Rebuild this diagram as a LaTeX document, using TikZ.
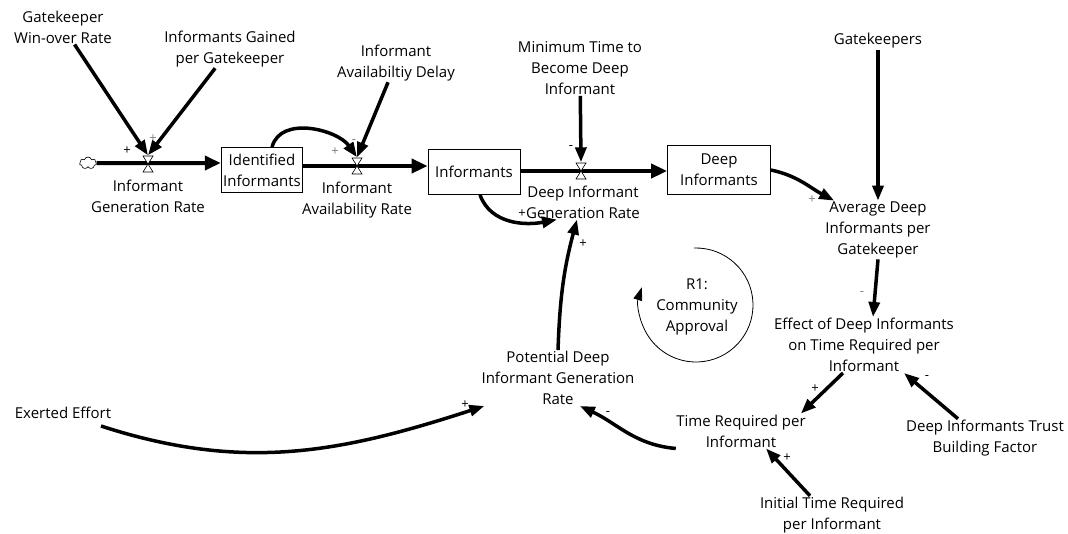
\documentclass[tikz,border=0pt]{standalone}
\usepackage{fontspec}
\setmainfont{Open Sans}
\usetikzlibrary{arrows.meta,shapes.symbols}

\pgfdeclarelayer{background}
\pgfsetlayers{background,main}

\tikzstyle{aux}=[inner sep = 1pt, align=center, font=\fontsize{15}{21}\selectfont]
\tikzstyle{stock}=[draw, line width=0.8pt, inner sep = 2pt, align=center, font=\fontsize{15}{21}\selectfont]
\tikzstyle{valve}=[minimum width = 11pt, minimum height = 17pt, inner sep = 0pt,
  path picture={\draw[fill=white, line width=0.6pt]
    ([shift={(0.5pt,-0.5pt)}]path picture bounding box.north west) -- ([shift={(-0.5pt,-0.5pt)}]path picture bounding box.north east)
    -- ([shift={(0.5pt,0.5pt)}]path picture bounding box.south west) -- ([shift={(-0.5pt,0.5pt)}]path picture bounding box.south east) -- cycle;}]
\tikzstyle{src}=[cloud, cloud puffs = 7, draw, line width=0.6pt, fill=white, minimum width = 17pt, minimum height = 12pt, inner sep = 0pt]
\tikzstyle{flow}=[line width=4pt, -{Triangle[length=16pt,width=14pt]}]
\tikzstyle{link}=[line width=3.5pt, -{Triangle[length=15pt,width=11pt]}]
\tikzstyle{sgn}=[inner sep = 0pt, font=\fontsize{13}{13}\selectfont]
\tikzstyle{sgnG}=[inner sep = 0pt, font=\fontsize{13}{13}\selectfont, text=gray]
\tikzstyle{loopS}=[line width=0.8pt, -{Triangle[length=13pt,width=9pt]}]

\begin{document}
\begin{tikzpicture}[x=1pt, y=1pt]
        \useasboundingbox (0,0) rectangle (1068,-533);
                % stocks and flows
                \draw (88,-163) node[src] (cl) {};
                \draw (148,-164) node[valve] (v1) {};
                \draw (262,-170) node[stock, minimum width=80pt, minimum height=45pt] (ii) {Identified\\Informants};
                \draw (357,-166) node[valve] (v2) {};
                \draw (474,-172) node[stock, minimum width=92pt, minimum height=45pt] (inf) {Informants};
                \draw (581,-171) node[valve] (v3) {};
                \draw (719,-170) node[stock, minimum width=103pt, minimum height=49pt] (di) {Deep\\Informants};
                \draw (148,-196) node[aux] (igr) {Informant\\Generation Rate};
                \draw (357,-200) node[aux] (iar) {Informant\\Availability Rate};
                \draw (583,-202) node[aux] (dig) {Deep Informant\\Generation Rate};
                % auxiliaries
                \draw (63,-27) node[aux] (gwr) {Gatekeeper\\Win-over Rate};
                \draw (230,-49) node[aux] (igg) {Informants Gained\\per Gatekeeper};
                \draw (396,-63) node[aux] (iad) {Informant\\Availabiltiy Delay};
                \draw (580,-68) node[aux] (mtd) {Minimum Time to\\Become Deep\\Informant};
                \draw (878,-41) node[aux] (gk) {Gatekeepers};
                \draw (878,-230) node[aux] (adi) {Average Deep\\Informants per\\Gatekeeper};
                \draw (864,-345) node[aux] (edi) {Effect of Deep Informants\\on Time Required per\\Informant};
                \draw (985,-438) node[aux] (dtb) {Deep Informants Trust\\Building Factor};
                \draw (741,-431) node[aux] (trp) {Time Required per\\Informant};
                \draw (832,-515) node[aux] (itr) {Initial Time Required\\per Informant};
                \draw (558,-378) node[aux] (pdg) {Potential Deep\\Informant Generation\\Rate};
                \draw (63,-413) node[aux] (ee) {Exerted Effort};
                \draw (697,-307) node[aux] (r1) {R1:\\Community\\Approval};
                \begin{pgfonlayer}{background}
                \path
                    (cl) edge[flow] (cl -| ii.west)
                    (ii.east |- v2) edge[flow] (inf.west |- v2)
                    (inf.east |- v3) edge[flow] (di.west |- v3)
                ;
                \end{pgfonlayer}
                % links
                \path
                    (gwr) edge[link] (v1.north)
                    (igg) edge[link] (v1.north)
                    ([xshift=10pt]ii.north) edge[link, out=75, in=125] (v2.north)
                    (iad) edge[link] (v2.north)
                    (mtd) edge[link] (v3.north)
                    ([xshift=6pt]inf.south) edge[link, out=-70, in=191] ([xshift=-26pt]dig.south)
                    (pdg.north) edge[link, out=88, in=-105] ([xshift=-6pt]dig.south)
                    (di.east) edge[link, out=-12, in=152] ([xshift=10pt]adi.north west)
                    (gk) edge[link] (adi)
                    (adi.south) edge[link] ([xshift=9pt]edi.north)
                    ([xshift=-27pt]dtb.north) edge[link] ([xshift=40pt]edi.south)
                    ([xshift=-21pt]edi.south) edge[link] ([xshift=-6pt]trp.north east)
                    ([xshift=-22pt]itr.north) edge[link] ([xshift=25pt]trp.south)
                    (trp.195) edge[link, out=175, in=-25] (pdg.-52)
                    ([xshift=38pt,yshift=-13pt]ee.center) edge[link, out=-18, in=198] ([xshift=4pt]pdg.south west)
                ;
                % loop marker
                \draw[loopS] (696,-305) ++(92:57) arc[start angle=92, end angle=-198, radius=57];
                % polarities
                \draw (127,-151) node[sgn] (s1) {+};
                \draw (153,-139) node[sgnG] (s2) {+};
                \draw (335,-152) node[sgnG] (s3) {+};
                \draw (354,-142) node[sgnG] (s4) {-};
                \draw (571,-148) node[sgn] (s5) {-};
                \draw (522,-214) node[sgn] (s6) {+};
                \draw (583,-244) node[sgn] (s7) {+};
                \draw (812,-200) node[sgnG] (s8) {+};
                \draw (862,-294) node[sgnG] (s9) {-};
                \draw (815,-389) node[sgn] (s10) {+};
                \draw (927,-378) node[sgn] (s11) {-};
                \draw (787,-458) node[sgn] (s12) {+};
                \draw (608,-414) node[sgn] (s13) {-};
                \draw (465,-405) node[sgn] (s14) {+};
\end{tikzpicture}
\end{document}
